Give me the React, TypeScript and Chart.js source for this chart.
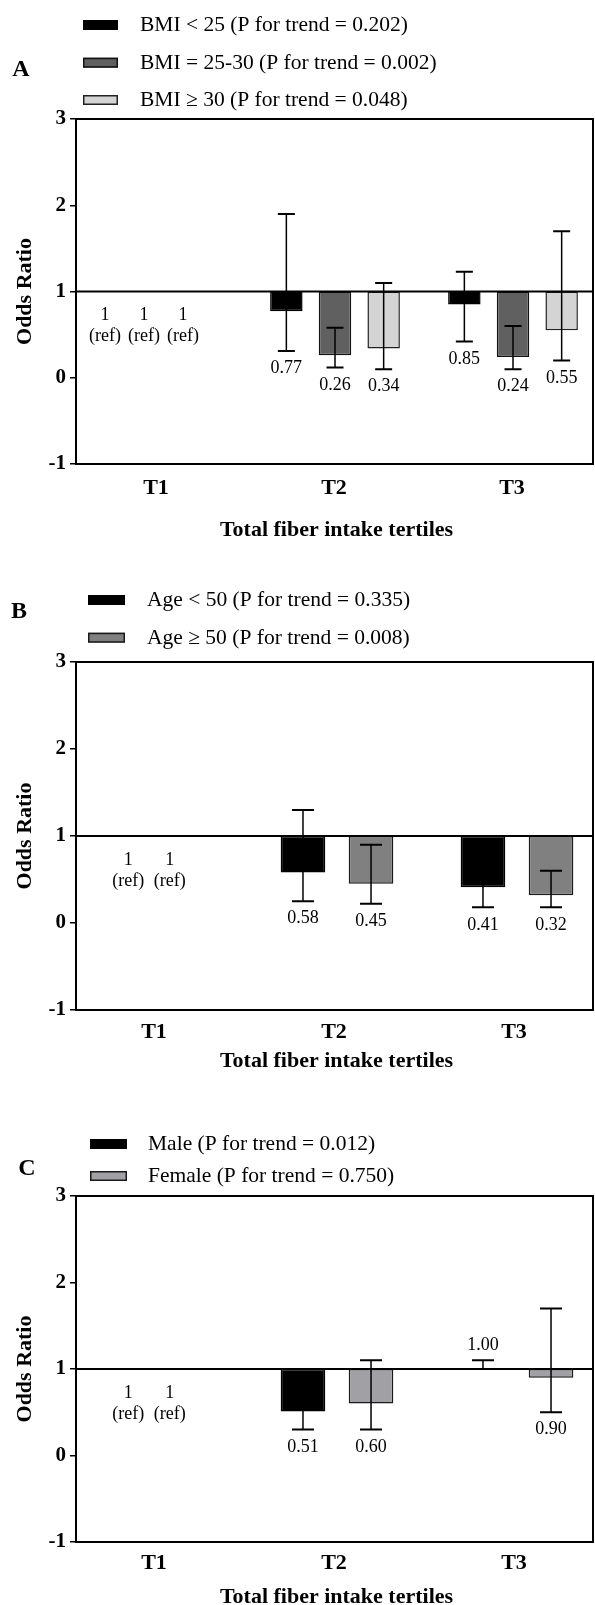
import React, { useEffect, useRef } from "react";
import { Chart, registerables } from "chart.js";
Chart.register(...registerables);

const FONT = "'Liberation Serif', 'Times New Roman', serif";

// ---------- data ----------
const categories = ["T1", "T2", "T3"];
const categoryX = [1, 2, 3];
const yTicks = [-1, 0, 1, 2, 3];
const xTitle = "Total fiber intake tertiles";
const yTitle = "Odds Ratio";

// Panel A: BMI
const bmiLabels = [
  "BMI < 25 (P for trend = 0.202)",
  "BMI = 25-30 (P for trend = 0.002)",
  "BMI ≥ 30 (P for trend = 0.048)",
];
const bmiLt25 = [1, 0.77, 0.85];
const bmiLt25Lower = [null, 0.31, 0.42];
const bmiLt25Upper = [null, 1.9, 1.23];
const bmi25to30 = [1, 0.26, 0.24];
const bmi25to30Lower = [null, 0.12, 0.1];
const bmi25to30Upper = [null, 0.58, 0.6];
const bmiGe30 = [1, 0.34, 0.55];
const bmiGe30Lower = [null, 0.1, 0.2];
const bmiGe30Upper = [null, 1.1, 1.7];

// Panel B: Age
const ageLabels = ["Age < 50 (P for trend = 0.335)", "Age ≥ 50 (P for trend = 0.008)"];
const ageLt50 = [1, 0.58, 0.41];
const ageLt50Lower = [null, 0.25, 0.18];
const ageLt50Upper = [null, 1.3, 0.88];
const ageGe50 = [1, 0.45, 0.32];
const ageGe50Lower = [null, 0.22, 0.18];
const ageGe50Upper = [null, 0.9, 0.6];

// Panel C: Sex
const sexLabels = ["Male (P for trend = 0.012)", "Female (P for trend = 0.750)"];
const male = [1, 0.51, 1.0];
const maleLower = [null, 0.3, 1.0];
const maleUpper = [null, 0.88, 1.1];
const female = [1, 0.6, 0.9];
const femaleLower = [null, 0.3, 0.5];
const femaleUpper = [null, 1.1, 1.7];

// ---------- styles / layout ----------
type Series = {
  label: string;
  values: number[];
  lower: (number | null)[];
  upper: (number | null)[];
  color: string;
  border: string;
};

type Panel = {
  letter: string;
  series: Series[];
  canvasTop: number;
  canvasH: number;
  plotTop: number;
  plotBottom: number;
  xMin: number;
  xMax: number;
  cp: number;
  bp: number;
  cap: number;
  legendY: number[];
  swatch: [number, number];
  textX: number;
  letterPos: [number, number];
  refOffset: number;
  refSpacing: number;
  tickY: number;
  tickShift: number;
  titleY: number;
};

const panels: Panel[] = [
  {
    letter: "A",
    series: [
      { label: bmiLabels[0], values: bmiLt25, lower: bmiLt25Lower, upper: bmiLt25Upper, color: "#000000", border: "#000000" },
      { label: bmiLabels[1], values: bmi25to30, lower: bmi25to30Lower, upper: bmi25to30Upper, color: "#606060", border: "#111111" },
      { label: bmiLabels[2], values: bmiGe30, lower: bmiGe30Lower, upper: bmiGe30Upper, color: "#d4d4d4", border: "#222222" },
    ],
    canvasTop: 0,
    canvasH: 548,
    plotTop: 119,
    plotBottom: 464,
    xMin: 0.5449,
    xMax: 3.4494,
    cp: 0.82,
    bp: 0.667,
    cap: 17,
    legendY: [25, 62.7, 100],
    swatch: [83, 118],
    textX: 140,
    letterPos: [21, 70],
    refOffset: -13,
    refSpacing: 39,
    tickY: 488,
    tickShift: -1,
    titleY: 530,
  },
  {
    letter: "B",
    series: [
      { label: ageLabels[0], values: ageLt50, lower: ageLt50Lower, upper: ageLt50Upper, color: "#000000", border: "#000000" },
      { label: ageLabels[1], values: ageGe50, lower: ageGe50Lower, upper: ageGe50Upper, color: "#808080", border: "#1a1a1a" },
    ],
    canvasTop: 548,
    canvasH: 540,
    plotTop: 662,
    plotBottom: 1010,
    xMin: 0.55,
    xMax: 3.4222,
    cp: 0.756,
    bp: 0.656,
    cap: 22,
    legendY: [600, 637.7],
    swatch: [88, 125],
    textX: 147,
    letterPos: [19, 612],
    refOffset: -8,
    refSpacing: 41.5,
    tickY: 1032,
    tickShift: -3,
    titleY: 1061,
  },
  {
    letter: "C",
    series: [
      { label: sexLabels[0], values: male, lower: maleLower, upper: maleUpper, color: "#000000", border: "#000000" },
      { label: sexLabels[1], values: female, lower: femaleLower, upper: femaleUpper, color: "#a1a1a5", border: "#1a1a1a" },
    ],
    canvasTop: 1088,
    canvasH: 517,
    plotTop: 1196,
    plotBottom: 1542,
    xMin: 0.55,
    xMax: 3.4222,
    cp: 0.756,
    bp: 0.656,
    cap: 22,
    legendY: [1144, 1176],
    swatch: [90, 127],
    textX: 148,
    letterPos: [27, 1169],
    refOffset: -8,
    refSpacing: 41.5,
    tickY: 1563,
    tickShift: -3,
    titleY: 1597,
  },
];

function makePlugin(p: Panel) {
  const off = p.canvasTop;
  return {
    id: "decor" + p.letter,
    afterDatasetsDraw(chart: any) {
      const ctx = chart.ctx;
      const ys = chart.scales.y;
      const ca = chart.chartArea;
      ctx.save();
      // error bars
      p.series.forEach((s, i) => {
        const meta = chart.getDatasetMeta(i);
        s.lower.forEach((lo, j) => {
          const hi = s.upper[j];
          if (lo == null || hi == null) return;
          const el = meta.data[j];
          if (!el) return;
          const x = el.x;
          const yl = ys.getPixelForValue(lo);
          const yh = ys.getPixelForValue(hi);
          ctx.strokeStyle = "#000";
          ctx.lineWidth = 1.5;
          ctx.beginPath();
          ctx.moveTo(x, yl);
          ctx.lineTo(x, yh);
          ctx.stroke();
          ctx.lineWidth = 2;
          ctx.beginPath();
          ctx.moveTo(x - p.cap / 2, yl);
          ctx.lineTo(x + p.cap / 2, yl);
          ctx.moveTo(x - p.cap / 2, yh);
          ctx.lineTo(x + p.cap / 2, yh);
          ctx.stroke();
        });
      });
      // reference line at OR = 1
      const y1 = ys.getPixelForValue(1);
      ctx.strokeStyle = "#000";
      ctx.lineWidth = 2;
      ctx.beginPath();
      ctx.moveTo(ca.left, y1);
      ctx.lineTo(ca.right, y1);
      ctx.stroke();
      // frame
      ctx.strokeRect(ca.left, ca.top, ca.right - ca.left, ca.bottom - ca.top);
      ctx.restore();
    },
    afterDraw(chart: any) {
      const ctx = chart.ctx;
      const xs = chart.scales.x;
      const ys = chart.scales.y;
      const ca = chart.chartArea;
      ctx.save();
      ctx.fillStyle = "#000";
      // value labels & reference labels
      ctx.font = `18px ${FONT}`;
      ctx.textAlign = "center";
      ctx.textBaseline = "middle";
      const n = p.series.length;
      p.series.forEach((s, i) => {
        const meta = chart.getDatasetMeta(i);
        s.values.forEach((v, j) => {
          const lo = s.lower[j];
          const hi = s.upper[j];
          if (lo == null || hi == null) {
            const cx = xs.getPixelForValue(categoryX[j]) + p.refOffset + (i - (n - 1) / 2) * p.refSpacing;
            const y1 = ys.getPixelForValue(v);
            ctx.fillText(String(v), cx, y1 + 24);
            ctx.fillText("(ref)", cx, y1 + 45);
            return;
          }
          const x = meta.data[j].x;
          const txt = v.toFixed(2);
          if (v >= 1) {
            ctx.fillText(txt, x, ys.getPixelForValue(hi) - 15);
          } else {
            ctx.fillText(txt, x, ys.getPixelForValue(lo) + 17.5);
          }
        });
      });
      // category labels
      ctx.font = `bold 22px ${FONT}`;
      categories.forEach((c, j) => {
        ctx.fillText(c, xs.getPixelForValue(categoryX[j]) + p.tickShift, p.tickY - off);
      });
      // x title
      ctx.fillText(xTitle, (ca.left + ca.right) / 2 + 2, p.titleY - off);
      // y title
      ctx.save();
      ctx.translate(25.5, (ca.top + ca.bottom) / 2);
      ctx.rotate(-Math.PI / 2);
      ctx.fillText(yTitle, 0, 0);
      ctx.restore();
      // panel letter
      ctx.font = `bold 24px ${FONT}`;
      ctx.fillText(p.letter, p.letterPos[0], p.letterPos[1] - off);
      // legend
      ctx.font = `21.5px ${FONT}`;
      ctx.textAlign = "left";
      p.series.forEach((s, i) => {
        const cy = p.legendY[i] - off;
        const [x0, x1] = p.swatch;
        ctx.fillStyle = s.color;
        ctx.fillRect(x0, cy - 5, x1 - x0, 10);
        ctx.strokeStyle = s.border;
        ctx.lineWidth = 1.5;
        ctx.strokeRect(x0 + 0.75, cy - 4.25, x1 - x0 - 1.5, 8.5);
        ctx.fillStyle = "#000";
        ctx.fillText(s.label, p.textX, cy + 0.5);
      });
      ctx.restore();
    },
  };
}

function PanelChart({ p }: { p: Panel }) {
  const ref = useRef<HTMLCanvasElement | null>(null);
  useEffect(() => {
    if (!ref.current) return;
    const datasets = p.series.map((s) => ({
      label: s.label,
      data: categoryX.map((x, j) => ({
        x,
        y: s.lower[j] == null ? null : [s.values[j], 1],
      })),
      backgroundColor: s.color,
      borderColor: s.border,
      borderWidth: 1.5,
      borderSkipped: false,
      categoryPercentage: p.cp,
      barPercentage: p.bp,
    }));
    const chart = new Chart(ref.current, {
      type: "bar",
      data: { datasets } as any,
      options: {
        responsive: false,
        animation: false,
        events: [],
        layout: {
          padding: {
            top: p.plotTop - p.canvasTop,
            bottom: p.canvasTop + p.canvasH - p.plotBottom,
            left: 0,
            right: 2,
          },
        },
        plugins: { legend: { display: false }, tooltip: { enabled: false } },
        scales: {
          x: {
            type: "linear",
            display: false,
            offset: false,
            bounds: "data",
            grace: 0,
            min: p.xMin,
            max: p.xMax,
            grid: { offset: false },
            afterDataLimits: (axis: any) => {
              axis.min = p.xMin;
              axis.max = p.xMax;
            },
            afterBuildTicks: (axis: any) => {
              axis.ticks = categoryX.map((v) => ({ value: v }));
              axis.min = p.xMin;
              axis.max = p.xMax;
            },
          },
          y: {
            min: yTicks[0],
            max: yTicks[yTicks.length - 1],
            afterFit: (axis: any) => {
              axis.width = 76;
            },
            afterBuildTicks: (axis: any) => {
              axis.ticks = yTicks.map((v) => ({ value: v }));
            },
            ticks: {
              color: "#000",
              padding: 4,
              font: { family: FONT, size: 21, weight: "bold" },
              callback: (v: any) => String(v),
            },
            grid: {
              display: true,
              drawOnChartArea: false,
              drawTicks: true,
              tickLength: 6,
              color: "#000",
              lineWidth: 1.5,
            },
            border: { display: true, color: "#000", width: 2 },
          },
        },
      } as any,
      plugins: [makePlugin(p)],
    });
    return () => chart.destroy();
  }, [p]);
  return (
    <canvas
      ref={ref}
      width={595}
      height={p.canvasH}
      style={{ position: "absolute", left: 0, top: p.canvasTop, width: 595, height: p.canvasH }}
    />
  );
}

export default function App() {
  return (
    <div
      style={{
        position: "absolute",
        left: 0,
        top: 0,
        width: 595,
        height: 1605,
        overflow: "hidden",
        background: "#fff",
      }}
    >
      {panels.map((p) => (
        <PanelChart key={p.letter} p={p} />
      ))}
    </div>
  );
}
